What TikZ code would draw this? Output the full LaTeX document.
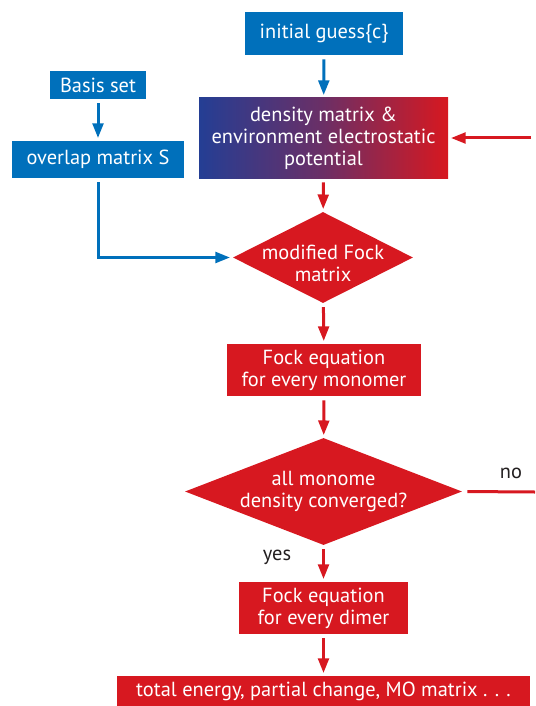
\documentclass[tikz,border=0pt]{standalone}
\usepackage{fontspec}
\setmainfont{PT Sans}
\usetikzlibrary{shapes.geometric,arrows.meta}
\definecolor{fmoblue}{RGB}{0,112,187}
\definecolor{fmored}{RGB}{215,24,32}
\definecolor{fmonavy}{RGB}{36,62,148}
\definecolor{fmotext}{RGB}{35,31,32}

\begin{document}
\begin{tikzpicture}[x=0.75pt,y=0.75pt,yscale=-1,xscale=1,
  every node/.style={font=\fontsize{15.3}{16.5}\selectfont},
  bluebox/.style={fill=fmoblue,text=white,inner sep=0pt,align=center},
  redbox/.style={fill=fmored,text=white,inner sep=0pt,align=center},
  reddia/.style={diamond,fill=fmored,inner sep=0pt},
  diatext/.style={text=white,inner sep=0pt,align=center},
  bluearr/.style={draw=fmoblue,line width=2.25pt,-{Triangle[length=11pt,width=8pt]},shorten <=3pt,shorten >=2pt},
  redarr/.style={draw=fmored,line width=2.25pt,-{Triangle[length=11pt,width=8pt]},shorten <=3pt,shorten >=2pt}]
\useasboundingbox (0,0) rectangle (535,706);
\node[bluebox,minimum width=118.5pt,minimum height=32.25pt] (guess) at (324,33.5) {initial guess\{c\}};
\node[text=white,inner sep=0pt,align=center,left color=fmonavy,right color=fmored,middle color=fmonavy!60!fmored,minimum width=186.75pt,minimum height=60pt] (dens) at (323.5,138) {density matrix \&\\environment electrostatic\\potential};
\node[bluebox,minimum width=72pt,minimum height=21pt] (basis) at (98,85) {Basis set};
\node[bluebox,minimum width=129pt,minimum height=27.75pt] (overlap) at (98,159.5) {overlap matrix S};
\node[reddia,minimum width=135pt,minimum height=68.25pt] (fock) at (323,257.5) {};
\node[diatext] (focktext) at (323,263) {modified Fock\\matrix};
\node[redbox,minimum width=145.5pt,minimum height=39pt] (mono) at (324,370) {Fock equation\\for every monomer};
\node[reddia,minimum width=207.75pt,minimum height=80.25pt] (conv) at (323.5,491.5) {};
\node[diatext] (convtext) at (conv) {all monome\\density converged?};
\node[redbox,minimum width=126.75pt,minimum height=39pt] (dimer) at (323.5,608) {Fock equation\\for every dimer};
\node[redbox,minimum width=309.75pt,minimum height=22.5pt] (result) at (323.5,691) {total energy, partial change, MO matrix . . .};
\node[text=fmotext,inner sep=0pt] (no) at (511,473) {no};
\node[text=fmotext,inner sep=0pt] (yes) at (277,557) {yes};
\coordinate (loopin) at (535,138);
\coordinate (noend) at (535,492);
\draw[bluearr] (guess) -- (dens);
\draw[bluearr] (basis) -- (overlap);
\draw[bluearr] (overlap.south) -- (overlap.south |- fock.west) -- (fock.west);
\draw[redarr] (loopin) -- (dens.east);
\draw[redarr] (dens) -- (fock);
\draw[redarr] (fock) -- (mono);
\draw[redarr] (mono) -- (conv);
\draw[redarr] (conv) -- (dimer);
\draw[redarr] (dimer) -- (result);
\draw[draw=fmored,line width=2.25pt,shorten <=3.75pt] (conv.east) -- (noend);
\end{tikzpicture}
\end{document}
